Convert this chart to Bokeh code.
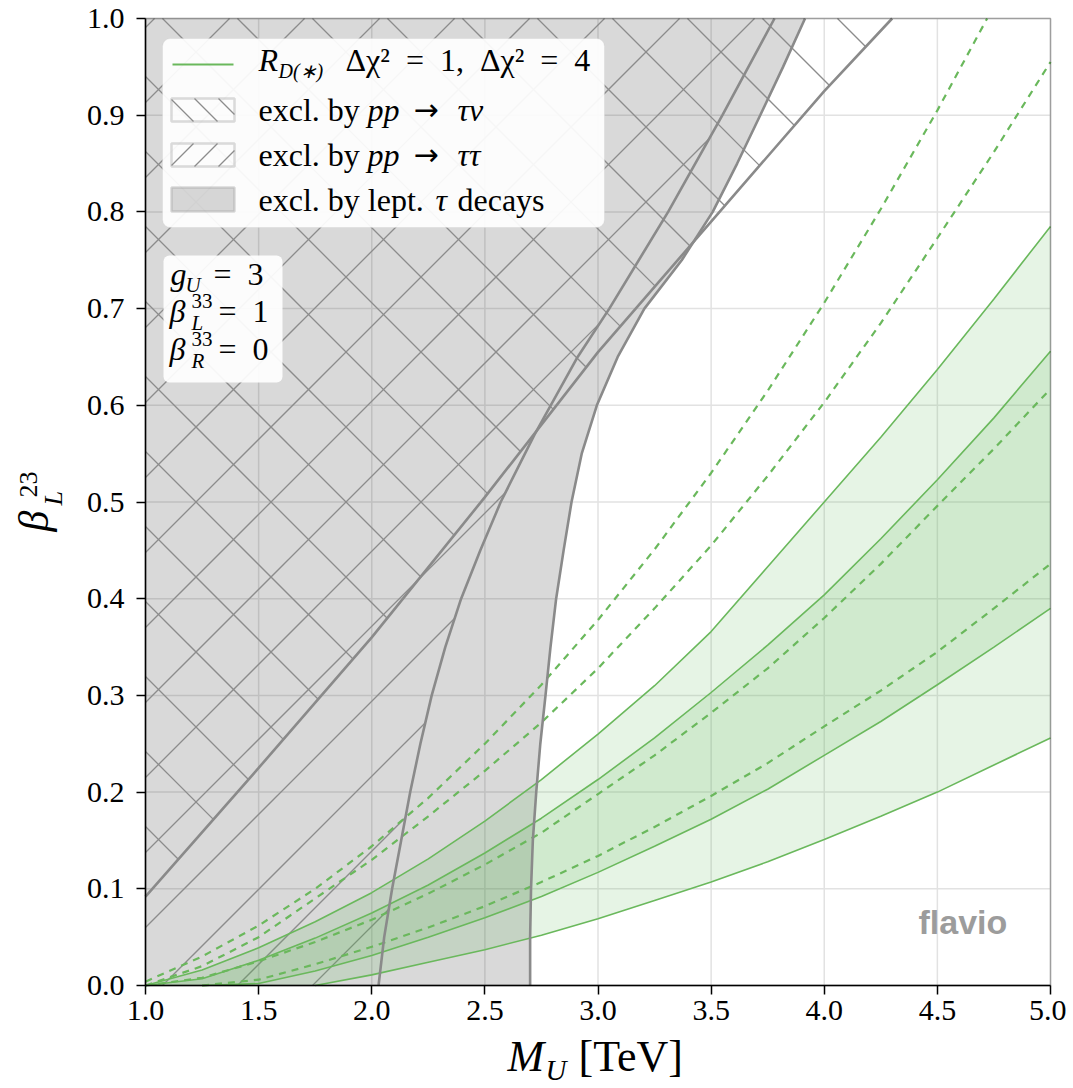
import math
from bokeh.plotting import figure
from bokeh.models import Range1d, FixedTicker, Label, BoxAnnotation, PrintfTickFormatter
from bokeh.embed import file_html
from bokeh.resources import INLINE

# ---------------- data ----------------
X_MIN, X_MAX = 1.0, 5.0
Y_MIN, Y_MAX = 0.0, 1.0
X_TICKS = [1.0, 1.5, 2.0, 2.5, 3.0, 3.5, 4.0, 4.5, 5.0]
Y_TICKS = [0.0, 0.1, 0.2, 0.3, 0.4, 0.5, 0.6, 0.7, 0.8, 0.9, 1.0]

# M_U grid (TeV) for the R_D(*) contours
M_GRID = [1.0, 1.25, 1.5, 1.75, 2.0, 2.25, 2.5, 2.75, 3.0, 3.25, 3.5, 3.75, 4.0, 4.25, 4.5, 4.75, 5.0]
# solid contours (filled bands): outer upper, inner upper, inner lower, outer lower
S1 = [0.000, 0.016, 0.039, 0.066, 0.096, 0.131, 0.170, 0.213, 0.260, 0.310, 0.366, 0.433, 0.500, 0.567, 0.637, 0.710, 0.785]
S2 = [0.000, 0.007, 0.026, 0.049, 0.075, 0.104, 0.137, 0.173, 0.213, 0.256, 0.303, 0.352, 0.404, 0.462, 0.523, 0.587, 0.656]
S3 = [0.000, 0.000, 0.002, 0.015, 0.031, 0.050, 0.070, 0.092, 0.117, 0.144, 0.172, 0.203, 0.238, 0.273, 0.311, 0.350, 0.390]
S4 = [0.000, 0.000, 0.000, 0.000, 0.011, 0.024, 0.037, 0.052, 0.069, 0.088, 0.107, 0.128, 0.151, 0.175, 0.200, 0.228, 0.256]
# dashed contours
D1 = [0.004, 0.030, 0.062, 0.100, 0.144, 0.194, 0.250, 0.311, 0.378, 0.451, 0.530, 0.615, 0.706, 0.803, 0.905, 1.013, 1.127]
D2 = [0.000, 0.020, 0.050, 0.090, 0.130, 0.175, 0.222, 0.272, 0.328, 0.390, 0.455, 0.527, 0.603, 0.685, 0.773, 0.862, 0.955]
D3 = [0.000, 0.008, 0.025, 0.045, 0.068, 0.095, 0.125, 0.158, 0.198, 0.238, 0.282, 0.328, 0.380, 0.436, 0.496, 0.555, 0.617]
D4 = [0.000, 0.000, 0.006, 0.022, 0.040, 0.060, 0.082, 0.107, 0.134, 0.164, 0.196, 0.230, 0.268, 0.305, 0.345, 0.390, 0.436]

# pp -> tau nu exclusion boundary (excluded above/left)
TN_X = [1.0, 1.5, 2.0, 2.5, 3.0, 3.5, 4.0, 4.3]
TN_Y = [0.092, 0.225, 0.360, 0.505, 0.655, 0.790, 0.925, 1.0]
# pp -> tau tau exclusion boundary (excluded left), as M_U(beta)
TT_Y = [0.0, 0.05, 0.1, 0.15, 0.2, 0.25, 0.3, 0.35, 0.4, 0.45, 0.5, 0.57, 0.65, 0.7, 0.8, 0.9, 1.0]
TT_X = [2.030, 2.055, 2.090, 2.130, 2.170, 2.215, 2.265, 2.325, 2.395, 2.480, 2.570, 2.720, 2.910, 3.050, 3.310, 3.550, 3.780]
# leptonic tau decays exclusion boundary (excluded left), as M_U(beta)
LEP_Y = [0.0, 0.05, 0.1, 0.15, 0.2, 0.25, 0.3, 0.35, 0.4, 0.45, 0.5, 0.55, 0.6, 0.65, 0.7, 0.75, 0.8, 0.85, 0.9, 0.95, 1.0]
LEP_X = [2.700, 2.700, 2.704, 2.712, 2.727, 2.745, 2.768, 2.790, 2.815, 2.848, 2.883, 2.928, 2.995, 3.087, 3.205, 3.370, 3.507, 3.615, 3.717, 3.818, 3.915]

# ---------------- style / layout ----------------
GREEN_FILL = "#4daf4a"
GREEN_LINE = "#6ab85c"
GRAY_LINE = "#8a8a8a"
HATCH_GRAY = "#8c8c8c"
GRID_GRAY = "#e2e2e2"
SERIF = "Liberation Serif"

CANVAS_W, CANVAS_H = 1066, 1088
FRAME_L, FRAME_T, FRAME_W, FRAME_H = 145, 18, 905, 967   # pixel box of the data area
HATCH_SPACING = 75
BASELINE_SHIFT = 0.34   # label anchor -> alphabetic baseline offset, in em


def dx(px):
    return X_MIN + (px - FRAME_L) / FRAME_W * (X_MAX - X_MIN)


def dy(py):
    return Y_MIN + (FRAME_T + FRAME_H - py) / FRAME_H * (Y_MAX - Y_MIN)


def to_px(x, y):
    return (FRAME_L + (x - X_MIN) / (X_MAX - X_MIN) * FRAME_W,
            FRAME_T + (Y_MAX - y) / (Y_MAX - Y_MIN) * FRAME_H)


def hatch_segments(poly_px, direction, spacing, phase):
    """45-degree (screen space) hatch lines clipped to a polygon given in pixels."""
    sgn = 1 if direction == "/" else -1

    def f(q):
        return q[1] + sgn * q[0]

    vals = [f(q) for q in poly_px]
    lo, hi = min(vals), max(vals)
    c = phase + math.ceil((lo - phase) / spacing) * spacing
    xs_out, ys_out = [], []
    n = len(poly_px)
    while c < hi:
        ts = []
        for i in range(n):
            a = poly_px[i]
            b = poly_px[(i + 1) % n]
            fa, fb = f(a) - c, f(b) - c
            if (fa < 0) != (fb < 0):
                t = fa / (fa - fb)
                ts.append(a[0] + t * (b[0] - a[0]))
        ts.sort()
        for j in range(0, len(ts) - 1, 2):
            x0, x1 = ts[j], ts[j + 1]
            xs_out.append([dx(x0), dx(x1)])
            ys_out.append([dy(c - sgn * x0), dy(c - sgn * x1)])
        c += spacing
    return xs_out, ys_out


def trim_leading_zeros(vals):
    out = list(vals)
    i = 0
    while i + 1 < len(out) and out[i] == 0 and out[i + 1] == 0:
        out[i] = float("nan")
        i += 1
    return out


def clip_top(xs, ys, ymax):
    ox, oy = [], []
    for i, (x, y) in enumerate(zip(xs, ys)):
        if i > 0:
            xp, yp = xs[i - 1], ys[i - 1]
            if not (math.isnan(yp) or math.isnan(y)) and (yp - ymax) * (y - ymax) < 0:
                t = (ymax - yp) / (y - yp)
                ox.append(xp + t * (x - xp))
                oy.append(ymax)
        if math.isnan(y) or y <= ymax:
            ox.append(x)
            oy.append(y)
    return ox, oy


# the frame covers the whole canvas; axes are pinned to the data box
p = figure(
    frame_width=CANVAS_W, frame_height=CANVAS_H, title=None,
    x_range=Range1d(dx(0), dx(CANVAS_W)), y_range=Range1d(dy(CANVAS_H), dy(0)),
    output_backend="svg", toolbar_location=None,
    min_border_left=0, min_border_top=0, min_border_right=0, min_border_bottom=0,
    background_fill_color="white", border_fill_color="white",
)
p.grid.visible = False
p.outline_line_color = None

# grid lines (at the tick positions, inside the data box)
p.segment(x0=X_TICKS, y0=[Y_MIN] * len(X_TICKS), x1=X_TICKS, y1=[Y_MAX] * len(X_TICKS),
          line_color=GRID_GRAY, line_width=1.5)
p.segment(x0=[X_MIN] * len(Y_TICKS), y0=Y_TICKS, x1=[X_MAX] * len(Y_TICKS), y1=Y_TICKS,
          line_color=GRID_GRAY, line_width=1.5)

# ---------------- exclusion regions ----------------
p.patch(LEP_X + [X_MIN, X_MIN], LEP_Y + [Y_MAX, Y_MIN], fill_color="black", fill_alpha=0.15, line_color=None)

tn_poly = [to_px(x, y) for x, y in zip(TN_X + [X_MIN], TN_Y + [Y_MAX])]
tt_poly = [to_px(x, y) for x, y in zip(TT_X + [X_MIN, X_MIN], TT_Y + [Y_MAX, Y_MIN])]
hx, hy = hatch_segments(tn_poly, "\\", HATCH_SPACING, 6)
p.multi_line(hx, hy, line_color=HATCH_GRAY, line_width=1.3)
hx, hy = hatch_segments(tt_poly, "/", HATCH_SPACING, 22)
p.multi_line(hx, hy, line_color=HATCH_GRAY, line_width=1.3)

# ---------------- R_D(*) bands ----------------
p.varea(x=M_GRID, y1=S4, y2=S1, fill_color=GREEN_FILL, fill_alpha=0.14)
p.varea(x=M_GRID, y1=S3, y2=S2, fill_color=GREEN_FILL, fill_alpha=0.14)
for ys in (S1, S2, S3, S4):
    lx, ly = clip_top(M_GRID, trim_leading_zeros(ys), Y_MAX)
    p.line(lx, ly, line_color=GREEN_LINE, line_width=1.6)
for ys in (D1, D2, D3, D4):
    lx, ly = clip_top(M_GRID, trim_leading_zeros(ys), Y_MAX)
    p.line(lx, ly, line_color=GREEN_LINE, line_width=2.2, line_dash="7 6")

# ---------------- exclusion boundaries ----------------
for xs, ys in ((LEP_X, LEP_Y), (TT_X, TT_Y), (TN_X, TN_Y)):
    p.line(xs, ys, line_color=GRAY_LINE, line_width=2.6)

# ---------------- axes ----------------
p.xaxis.fixed_location = Y_MIN
p.yaxis.fixed_location = X_MIN
p.xaxis.bounds = (X_MIN, X_MAX)
p.yaxis.bounds = (Y_MIN, Y_MAX)
p.xaxis.ticker = FixedTicker(ticks=X_TICKS)
p.yaxis.ticker = FixedTicker(ticks=Y_TICKS)
p.xaxis.formatter = PrintfTickFormatter(format="%.1f")
p.yaxis.formatter = PrintfTickFormatter(format="%.1f")
for ax in (p.xaxis[0], p.yaxis[0]):
    ax.major_label_text_font = SERIF
    ax.major_label_text_font_size = "30px"
    ax.major_label_text_color = "black"
    ax.major_tick_out = 9
    ax.major_tick_in = 0
    ax.minor_tick_out = 0
    ax.minor_tick_in = 0
    ax.major_tick_line_color = "black"
    ax.major_tick_line_width = 1.5
    ax.axis_line_color = "black"
    ax.axis_line_width = 1.5
p.xaxis.major_label_standoff = 6
p.yaxis.major_label_standoff = 12

# frame border of the data box
p.add_layout(BoxAnnotation(left=X_MIN, right=X_MAX, bottom=Y_MIN, top=Y_MAX,
                           fill_color=None, line_color="black", line_width=1.5))


def add_text(text, px, py, size, style="normal", font=SERIF, color="black", angle=0.0):
    """Place a text run so that its alphabetic baseline starts at reference pixel (px, py)."""
    shift = BASELINE_SHIFT * size
    if angle:
        ax_px, ax_py = px - shift, py
    else:
        ax_px, ax_py = px, py - shift
    p.add_layout(Label(x=dx(ax_px), y=dy(ax_py), text=text, text_font=font,
                       text_font_size=f"{size}px", text_font_style=style,
                       text_color=color, angle=angle,
                       text_align="left", text_baseline="alphabetic"))


# axis labels (composed)
add_text("M", 507, 1071, 44, "italic")
add_text("U", 545, 1079, 29, "italic")
add_text("[TeV]", 578, 1071, 44)
add_text("\u03b2", 48, 531, 42, "italic", angle=math.pi / 2)
add_text("23", 37, 497, 26, angle=math.pi / 2)
add_text("L", 62, 505, 26, "italic", angle=math.pi / 2)

# ---------------- legend ----------------
p.add_layout(BoxAnnotation(left=dx(162), right=dx(604), top=dy(38), bottom=dy(227),
                           fill_color="white", fill_alpha=0.92, line_color="#cccccc",
                           line_width=1, border_radius=8))
p.add_layout(BoxAnnotation(left=dx(172), right=dx(233), top=dy(63), bottom=dy(65),
                           fill_color=GREEN_LINE, fill_alpha=1.0, line_color=None))
box_tn = (171, 98, 234, 121)
box_tt = (171, 143, 234, 166)
box_lep = (171, 187, 234, 211)
for (l, t, r, b) in (box_tn, box_tt, box_lep):
    p.add_layout(BoxAnnotation(left=dx(l), right=dx(r), top=dy(t), bottom=dy(b),
                               fill_color="black" if (l, t, r, b) == box_lep else None,
                               fill_alpha=0.15, line_color=GRAY_LINE, line_width=2.5))


def rect_poly(l, t, r, b):
    return [(l, t), (r, t), (r, b), (l, b)]


for box, direction in ((box_tn, "\\"), (box_tt, "/")):
    hx, hy = hatch_segments(rect_poly(*box), direction, 24, 0)
    p.multi_line(hx, hy, line_color=HATCH_GRAY, line_width=1.3, level="overlay")

add_text("R", 258, 70, 32, "italic")
add_text("D(\u2217)", 278, 77, 20, "italic")
add_text("\u0394\u03c7\u00b2\u2002=\u20021,\u2002\u0394\u03c7\u00b2\u2002=\u20024", 345, 70, 32)

for row_y, target in ((120, "\u03c4\u03bd"), (165, "\u03c4\u03c4")):
    add_text("excl. by", 258, row_y, 32)
    add_text("pp", 367, row_y, 32, "italic")
    add_text("\u2192", 413, row_y - 1, 30, font="DejaVu Sans")
    add_text(target, 457, row_y, 32, "italic")
add_text("excl. by lept.", 258, 210, 32)
add_text("\u03c4", 435, 210, 32, "italic")
add_text("decays", 457, 210, 32)

# ---------------- parameter box ----------------
p.add_layout(BoxAnnotation(left=dx(163), right=dx(282), top=dy(255), bottom=dy(382),
                           fill_color="white", fill_alpha=0.92, line_color=None,
                           border_radius=6))
add_text("g", 170, 284, 32, "italic")
add_text("U", 185, 292, 21, "italic")
add_text("=\u20023", 213, 284, 32)
add_text("\u03b2", 169, 321, 32, "italic")
add_text("33", 191, 308, 21)
add_text("L", 191, 330, 21, "italic")
add_text("=\u20021", 218, 321, 32)
add_text("\u03b2", 169, 359, 32, "italic")
add_text("33", 191, 346, 21)
add_text("R", 191, 368, 21, "italic")
add_text("=\u20020", 218, 359, 32)

# watermark
add_text("flavio", 918, 933, 34, "bold", font="Liberation Sans", color="#9c9c9c")

open("out.html", "w").write(file_html(p, INLINE))
